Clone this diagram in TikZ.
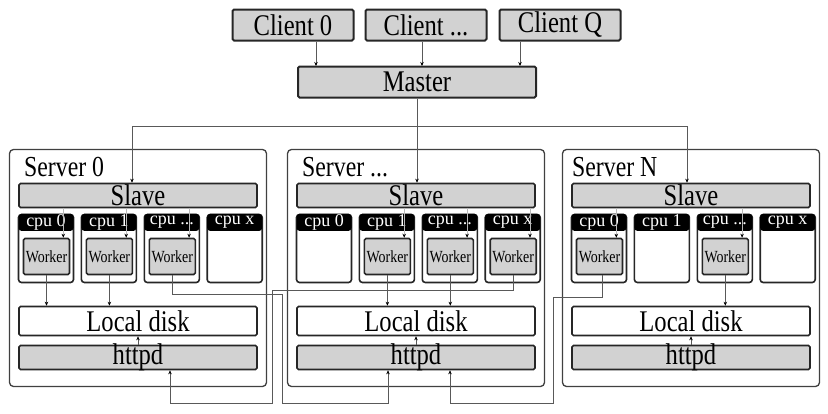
\documentclass[tikz,border=0pt]{standalone}
\usepackage{fontspec}
\setmainfont{Liberation Serif}[FakeStretch=0.82]
\newfontfamily\cpufont{Liberation Serif}
\usetikzlibrary{positioning, arrows.meta}
\tikzset{
	x=1pt, y=-1pt, % one unit per pixel, y runs downwards
	>={Stealth[length=4pt,width=3.5pt,color=black]}, % small dark arrow heads
	conn/.style={->, draw=gray!70!black, line width=0.8pt}, % thin grey connectors
	feed/.style={conn, draw=gray!55}, % slave to worker, hardly seen
	clientbox/.style={draw=black!85, line width=2pt, fill=gray!35, rounded corners=1.5pt, inner sep=0pt, minimum width=121pt, minimum height=31pt, font=\fontsize{30}{32}\selectfont},
	masterbox/.style={clientbox, minimum width=238pt, minimum height=31pt},
	serverbox/.style={draw=black!75, line width=1.3pt, fill=white, rounded corners=4pt, minimum width=257pt, minimum height=237pt},
	servername/.style={inner sep=0pt, font=\fontsize{29}{31}\selectfont},
	slavebox/.style={draw=black!85, line width=1.6pt, fill=gray!35, rounded corners=1.5pt, inner xsep=0pt, inner ysep=-3pt, minimum width=238pt, minimum height=24pt, font=\fontsize{30}{32}\selectfont},
	diskbox/.style={slavebox, fill=white, minimum height=29pt},
	cpubox/.style={draw=black!85, line width=1.6pt, fill=white, rounded corners=3pt, minimum width=55pt, minimum height=68pt},
	cpuhead/.style={fill=black, text=white, rounded corners=3pt, inner xsep=0pt, inner ysep=-1pt, minimum width=55pt, minimum height=17pt, font=\cpufont\fontsize{18}{19}\selectfont},
	workerbox/.style={draw=black!85, line width=1.6pt, fill=gray!35, rounded corners=1.5pt, inner sep=0pt, minimum width=46pt, minimum height=36pt, font=\fontsize{17}{18}\selectfont},
}
\begin{document}
\begin{tikzpicture}
	\useasboundingbox (0,0) rectangle (828,413);
	% clients and master
	\node[clientbox] (client0) at (293,25) {Client 0};
	\node[clientbox] (client1) at (426,25) {Client ...};
	\node[clientbox] (clientq) at (560,25) {Client Q};
	\node[masterbox] (master) at (417,82) {Master};
	% server 0
	\node[serverbox] (s0) at (138,268) {};
	\node[servername, anchor=base west] (s0name) at (24,176) {Server 0};
	\node[slavebox] (s0slave) at (138,195.5) {Slave};
	\node[cpubox] (s0cpu0) at (46,248.5) {};
	\node[cpubox, right=6.3pt of s0cpu0] (s0cpu1) {};
	\node[cpubox, right=6.3pt of s0cpu1] (s0cpu2) {};
	\node[cpubox, right=6.3pt of s0cpu2] (s0cpu3) {};
	\node[cpuhead, anchor=north] at (s0cpu0.north) {cpu 0};
	\node[cpuhead, anchor=north] at (s0cpu1.north) {cpu 1};
	\node[cpuhead, anchor=north] at (s0cpu2.north) {cpu ...};
	\node[cpuhead, anchor=north] at (s0cpu3.north) {cpu x};
	\node[workerbox] (s0w0) at ([xshift=0.5pt,yshift=-8pt]s0cpu0) {Worker};
	\node[workerbox] (s0w1) at ([xshift=0.5pt,yshift=-8pt]s0cpu1) {Worker};
	\node[workerbox] (s0w2) at ([xshift=0.5pt,yshift=-8pt]s0cpu2) {Worker};
	\node[diskbox] (s0disk) at (138,321) {Local disk};
	\node[slavebox] (s0httpd) at (138,357.5) {httpd};
	% server ...
	\node[serverbox] (s1) at (416,268) {};
	\node[servername, anchor=base west] (s1name) at (302,176) {Server ...};
	\node[slavebox] (s1slave) at (416,195.5) {Slave};
	\node[cpubox] (s1cpu0) at (324,248.5) {};
	\node[cpubox, right=6.3pt of s1cpu0] (s1cpu1) {};
	\node[cpubox, right=6.3pt of s1cpu1] (s1cpu2) {};
	\node[cpubox, right=6.3pt of s1cpu2] (s1cpu3) {};
	\node[cpuhead, anchor=north] at (s1cpu0.north) {cpu 0};
	\node[cpuhead, anchor=north] at (s1cpu1.north) {cpu 1};
	\node[cpuhead, anchor=north] at (s1cpu2.north) {cpu ...};
	\node[cpuhead, anchor=north] at (s1cpu3.north) {cpu x};
	\node[workerbox] (s1w1) at ([xshift=0.5pt,yshift=-8pt]s1cpu1) {Worker};
	\node[workerbox] (s1w2) at ([xshift=0.5pt,yshift=-8pt]s1cpu2) {Worker};
	\node[workerbox] (s1w3) at ([xshift=0.5pt,yshift=-8pt]s1cpu3) {Worker};
	\node[diskbox] (s1disk) at (416,321) {Local disk};
	\node[slavebox] (s1httpd) at (416,357.5) {httpd};
	% server N
	\node[serverbox] (s2) at (691,268) {};
	\node[servername, anchor=base west] (s2name) at (572,176) {Server N};
	\node[slavebox] (s2slave) at (691,195.5) {Slave};
	\node[cpubox] (s2cpu0) at (599,248.5) {};
	\node[cpubox, right=6.3pt of s2cpu0] (s2cpu1) {};
	\node[cpubox, right=6.3pt of s2cpu1] (s2cpu2) {};
	\node[cpubox, right=6.3pt of s2cpu2] (s2cpu3) {};
	\node[cpuhead, anchor=north] at (s2cpu0.north) {cpu 0};
	\node[cpuhead, anchor=north] at (s2cpu1.north) {cpu 1};
	\node[cpuhead, anchor=north] at (s2cpu2.north) {cpu ...};
	\node[cpuhead, anchor=north] at (s2cpu3.north) {cpu x};
	\node[workerbox] (s2w0) at ([xshift=0.5pt,yshift=-8pt]s2cpu0) {Worker};
	\node[workerbox] (s2w2) at ([xshift=0.5pt,yshift=-8pt]s2cpu2) {Worker};
	\node[diskbox] (s2disk) at (691,321) {Local disk};
	\node[slavebox] (s2httpd) at (691,357.5) {httpd};
	% clients to master, master to slaves
	\draw[conn] ([xshift=23pt]client0.south) -- ++(0,24.5);
	\draw[conn] ([xshift=-4pt]client1.south) -- ++(0,24.5);
	\draw[conn] ([xshift=-40pt]clientq.south) -- ++(0,24.5);
	\draw[conn] (master.south) -- (master.south |- s1slave.north);
	\draw[conn] ([yshift=-28pt]master.south) -| ([xshift=-6pt]s0slave.north);
	\draw[conn] ([yshift=-28pt]master.south) -| ([xshift=-4pt]s2slave.north);
	% slave to workers
	\draw[feed] ([xshift=-7pt]s0w0.north east) ++(0,-30) -- ++(0,30);
	\draw[feed] ([xshift=-7pt]s0w1.north east) ++(0,-30) -- ++(0,30);
	\draw[feed] ([xshift=-7pt]s0w2.north east) ++(0,-30) -- ++(0,30);
	\draw[feed] ([xshift=-7pt]s1w1.north east) ++(0,-30) -- ++(0,30);
	\draw[feed] ([xshift=-7pt]s1w2.north east) ++(0,-30) -- ++(0,30);
	\draw[feed] ([xshift=-7pt]s1w3.north east) ++(0,-30) -- ++(0,30);
	\draw[feed] ([xshift=-7pt]s2w0.north east) ++(0,-30) -- ++(0,30);
	\draw[feed] ([xshift=-7pt]s2w2.north east) ++(0,-30) -- ++(0,30);
	% workers to local disk, httpd to local disk
	\draw[conn] (s0w0.south) -- (s0w0.south |- s0disk.north);
	\draw[conn] (s0w1.south) -- (s0w1.south |- s0disk.north);
	\draw[conn] (s1w1.south) -- (s1w1.south |- s1disk.north);
	\draw[conn] (s1w2.south) -- (s1w2.south |- s1disk.north);
	\draw[conn] (s2w2.south) -- (s2w2.south |- s2disk.north);
	\draw[conn] (s0httpd.north) -- (s0disk.south);
	\draw[conn] (s1httpd.north) -- (s1disk.south);
	\draw[conn] (s2httpd.north) -- (s2disk.south);
	% workers to httpd of other servers
	\draw[conn] (s0w2.south) |- (282,294) |- (388,403) -- ([xshift=-28pt]s1httpd.south);
	\draw[conn] (s1w3.south) |- (272,290) |- (170,403) -- ([xshift=32pt]s0httpd.south);
	\draw[conn] ([xshift=3pt]s2w0.south) |- (553,297) |- (450,403) -- ([xshift=34pt]s1httpd.south);
\end{tikzpicture}
\end{document}
